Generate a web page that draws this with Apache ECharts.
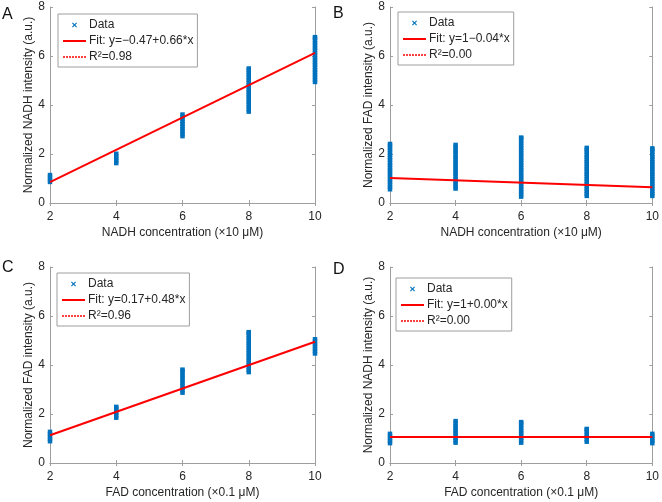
<!DOCTYPE html>
<html>
<head>
<meta charset="utf-8">
<script src="https://cdn.jsdelivr.net/npm/echarts@6/dist/echarts.min.js"></script>
<style>
html,body{margin:0;padding:0;background:#fff;}
#main{width:662px;height:502px;}
</style>
</head>
<body>
<div id="main"></div>
<script>
// ---- data ----
const xValues = [2, 4, 6, 8, 10];
const xTicks = [2, 4, 6, 8, 10];
const yTicks = [0, 2, 4, 6, 8];

const yA = [
  [0.85, 0.95, 1.05, 1.15],
  [1.62, 1.72, 1.82, 1.92, 2.02],
  [2.72, 2.82, 2.92, 3.02, 3.12, 3.22, 3.32, 3.42, 3.52, 3.62],
  [3.72, 3.82, 3.92, 4.02, 4.12, 4.22, 4.32, 4.42, 4.52, 4.62, 4.72, 4.82, 4.92, 5.02, 5.12, 5.22, 5.32, 5.42, 5.50],
  [4.93, 5.03, 5.13, 5.23, 5.33, 5.43, 5.53, 5.63, 5.73, 5.83, 5.93, 6.03, 6.13, 6.23, 6.33, 6.43, 6.53, 6.63, 6.73, 6.78]
];
const yB = [
  [0.55, 0.65, 0.75, 0.85, 0.95, 1.05, 1.15, 1.25, 1.35, 1.45, 1.55, 1.65, 1.75, 1.85, 1.95, 2.05, 2.15, 2.25, 2.35, 2.42],
  [0.58, 0.68, 0.78, 0.88, 0.98, 1.08, 1.18, 1.28, 1.38, 1.48, 1.58, 1.68, 1.78, 1.88, 1.98, 2.08, 2.18, 2.28, 2.38],
  [0.25, 0.35, 0.45, 0.55, 0.65, 0.75, 0.85, 0.95, 1.05, 1.15, 1.25, 1.35, 1.45, 1.55, 1.65, 1.75, 1.85, 1.95, 2.05, 2.15, 2.25, 2.35, 2.45, 2.55, 2.65, 2.68],
  [0.28, 0.38, 0.48, 0.58, 0.68, 0.78, 0.88, 0.98, 1.08, 1.18, 1.28, 1.38, 1.48, 1.58, 1.68, 1.78, 1.88, 1.98, 2.08, 2.18, 2.26],
  [0.28, 0.38, 0.48, 0.58, 0.68, 0.78, 0.88, 0.98, 1.08, 1.18, 1.28, 1.38, 1.48, 1.58, 1.68, 1.78, 1.88, 1.98, 2.08, 2.18, 2.24]
];
const yC = [
  [0.88, 0.98, 1.08, 1.18, 1.28],
  [1.84, 1.94, 2.04, 2.14, 2.24, 2.30],
  [2.86, 2.96, 3.06, 3.16, 3.26, 3.36, 3.46, 3.56, 3.66, 3.76, 3.82],
  [3.70, 3.80, 3.90, 4.00, 4.10, 4.20, 4.30, 4.40, 4.50, 4.60, 4.70, 4.80, 4.90, 5.00, 5.10, 5.20, 5.30, 5.35],
  [4.46, 4.56, 4.66, 4.76, 4.86, 4.96, 5.06]
];
const yD = [
  [0.80, 0.90, 1.00, 1.10, 1.20],
  [0.82, 0.92, 1.02, 1.12, 1.22, 1.32, 1.42, 1.52, 1.62, 1.72],
  [0.82, 0.92, 1.02, 1.12, 1.22, 1.32, 1.42, 1.52, 1.62, 1.68],
  [0.86, 0.96, 1.06, 1.16, 1.26, 1.36, 1.40],
  [0.80, 0.90, 1.00, 1.10, 1.20]
];

// fitted line end points (x, y)
const fitA = [[2, 0.85], [10, 6.13]];
const fitB = [[2, 1.02], [10, 0.64]];
const fitC = [[2, 1.13], [10, 4.95]];
const fitD = [[2, 1.06], [10, 1.06]];

const panelLetters = ['A', 'B', 'C', 'D'];
const fitLabels = ['Fit: y=\u22120.47+0.66*x', 'Fit: y=1\u22120.04*x', 'Fit: y=0.17+0.48*x', 'Fit: y=1+0.00*x'];
const r2Labels = ['R\u00b2=0.98', 'R\u00b2=0.00', 'R\u00b2=0.96', 'R\u00b2=0.00 '];
const xTitles = ['NADH concentration (\u00d710 \u03bcM)', 'NADH concentration (\u00d710 \u03bcM)', 'FAD concentration (\u00d70.1 \u03bcM)', 'FAD concentration (\u00d70.1 \u03bcM)'];
const yTitles = ['Normalized NADH intensity (a.u.)', 'Normalized FAD intensity (a.u.)', 'Normalized FAD intensity (a.u.)', 'Normalized NADH intensity (a.u.)'];
const dataLabel = 'Data';

// ---- layout / style ----
const grids = [
  {left: 50, top: 7, width: 265, height: 196},
  {left: 390, top: 7, width: 265, height: 196},
  {left: 50, top: 267, width: 265, height: 196},
  {left: 390, top: 267, width: 264, height: 196}
];
const legendPos = [
  {left: 58, top: 14},
  {left: 398, top: 12},
  {left: 57, top: 273},
  {left: 396, top: 278}
];
const letterPos = [[2, 7], [333, 6], [2, 260], [333, 262]];

const AX = '#9e9e9e';
const TXT = '#262626';
const BLUE = '#0072BD';
const RED = '#ff0000';
const PINK = '#ff4040';
const FONT = 'Liberation Sans, Arial, Helvetica, sans-serif';
const XPATH = 'path://M0,1.6L1.6,0L5,3.4L8.4,0L10,1.6L6.6,5L10,8.4L8.4,10L5,6.6L1.6,10L0,8.4L3.4,5Z';

const ySets = [yA, yB, yC, yD];
const fits = [fitA, fitB, fitC, fitD];

const xAxes = [], yAxes = [], series = [], legends = [], graphics = [];

for (let p = 0; p < 4; p++) {
  xAxes.push({
    gridIndex: p, type: 'value', min: xTicks[0], max: xTicks[xTicks.length - 1], interval: 2,
    position: 'bottom',
    name: xTitles[p], nameLocation: 'middle', nameGap: 24,
    nameTextStyle: {color: TXT, fontSize: 12, fontFamily: FONT},
    axisLine: {show: true, lineStyle: {color: AX, width: 1}},
    axisTick: {show: true, inside: true, length: 3, lineStyle: {color: AX}},
    axisLabel: {color: TXT, fontSize: 12, margin: 8, fontFamily: FONT},
    splitLine: {show: false}
  });
  xAxes.push({
    gridIndex: p, type: 'value', min: xTicks[0], max: xTicks[xTicks.length - 1], interval: 2,
    position: 'top',
    axisLine: {show: true, lineStyle: {color: AX, width: 1}},
    axisTick: {show: true, inside: true, length: 3, lineStyle: {color: AX}},
    axisLabel: {show: false},
    splitLine: {show: false}
  });
  yAxes.push({
    gridIndex: p, type: 'value', min: yTicks[0], max: yTicks[yTicks.length - 1], interval: 2,
    position: 'left',
    name: yTitles[p], nameLocation: 'middle', nameGap: 15,
    nameTextStyle: {color: TXT, fontSize: 12, fontFamily: FONT},
    axisLine: {show: true, lineStyle: {color: AX, width: 1}},
    axisTick: {show: true, inside: true, length: 3, lineStyle: {color: AX}},
    axisLabel: {color: TXT, fontSize: 12, margin: 5, fontFamily: FONT},
    splitLine: {show: false}
  });
  yAxes.push({
    gridIndex: p, type: 'value', min: yTicks[0], max: yTicks[yTicks.length - 1], interval: 2,
    position: 'right',
    axisLine: {show: true, lineStyle: {color: AX, width: 1}},
    axisTick: {show: true, inside: true, length: 3, lineStyle: {color: AX}},
    axisLabel: {show: false},
    splitLine: {show: false}
  });

  const pts = [];
  xValues.forEach((x, i) => ySets[p][i].forEach(y => pts.push([x, y])));

  series.push({
    type: 'scatter', name: dataLabel, xAxisIndex: p * 2, yAxisIndex: p * 2,
    data: pts, symbol: 'rect', symbolSize: [4.5, 4],
    itemStyle: {color: BLUE, opacity: 1}, silent: true, z: 2
  });
  series.push({
    type: 'line', name: fitLabels[p], xAxisIndex: p * 2, yAxisIndex: p * 2,
    data: fits[p], symbol: 'none', showSymbol: false,
    lineStyle: {color: RED, width: 2}, itemStyle: {color: RED}, silent: true, z: 3
  });
  // R² entry: legend-only series sharing the fit line (drawn invisibly)
  series.push({
    type: 'line', name: r2Labels[p], xAxisIndex: p * 2, yAxisIndex: p * 2,
    data: fits[p], symbol: 'none', showSymbol: false, color: PINK,
    lineStyle: {color: PINK, width: 2, type: [2, 1], opacity: 0}, itemStyle: {color: PINK}, silent: true, z: 1
  });

  legends.push({
    left: legendPos[p].left, top: legendPos[p].top, orient: 'vertical',
    backgroundColor: '#fff', borderColor: AX, borderWidth: 1,
    padding: [4, 4, 3, 4], itemGap: 2, itemWidth: 23, itemHeight: 5,
    selectedMode: false,
    textStyle: {color: TXT, fontSize: 12, fontFamily: FONT, lineHeight: 14, padding: [0, 0, 0, -2]},
    data: [
      {name: dataLabel, icon: XPATH, itemStyle: {color: BLUE}},
      {name: fitLabels[p], itemStyle: {opacity: 0, borderWidth: 0},
       lineStyle: {color: RED, width: 2, type: 'solid', opacity: 1}},
      {name: r2Labels[p], itemStyle: {opacity: 0, borderWidth: 0},
       lineStyle: {color: PINK, width: 2, type: [2, 1], opacity: 1}}
    ]
  });

  graphics.push({
    type: 'text', left: letterPos[p][0], top: letterPos[p][1],
    style: {text: panelLetters[p], fill: '#111', fontSize: 16, fontFamily: FONT}
  });
}

const chart = echarts.init(document.getElementById('main'), null, {renderer: 'canvas'});
chart.setOption({
  animation: false,
  backgroundColor: '#fff',
  textStyle: {fontFamily: FONT},
  grid: grids.map(g => Object.assign({containLabel: false}, g)),
  xAxis: xAxes,
  yAxis: yAxes,
  legend: legends,
  series: series,
  graphic: graphics
});
</script>
</body>
</html>
